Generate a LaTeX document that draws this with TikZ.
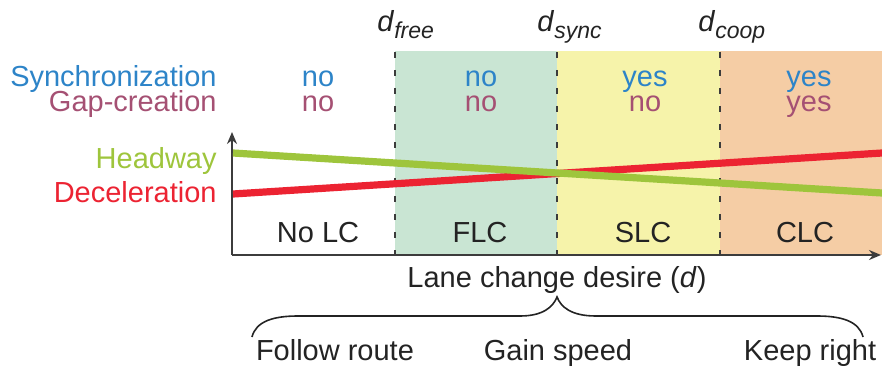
\documentclass[tikz,border=0pt]{standalone}
\usepackage{fontspec}
\setmainfont{Liberation Sans}
\usetikzlibrary{arrows.meta}

\definecolor{syncblue}{RGB}{45,132,200}
\definecolor{gapmauve}{RGB}{165,80,115}
\definecolor{headgreen}{RGB}{158,197,60}
\definecolor{decred}{RGB}{236,35,50}
\definecolor{flcfill}{RGB}{201,229,211}
\definecolor{slcfill}{RGB}{246,243,170}
\definecolor{clcfill}{RGB}{245,205,165}
\definecolor{axisgray}{RGB}{60,60,60}
\definecolor{textdark}{RGB}{35,35,35}

\begin{document}
\begin{tikzpicture}[x=0.5pt,y=-0.5pt,
  every node/.style={font=\fontsize{14.5}{17}\selectfont, inner sep=0pt, text=textdark},
  bound/.style={axisgray, line width=1pt, dash pattern=on 3pt off 6pt},
  axisline/.style={axisgray, line width=1pt, -{Stealth[length=6pt,width=5pt]}},
  trend/.style={line width=3.6pt},
  bracepath/.style={textdark, line width=0.8pt},
  synctxt/.style={text=syncblue},
  gaptxt/.style={text=gapmauve},
  thresh/.style={anchor=base west}
]
\useasboundingbox (0,0) rectangle (882,369);

% regime bands
\fill[flcfill] (395,51) rectangle (557,255);
\fill[slcfill] (557,51) rectangle (720,255);
\fill[clcfill] (720,51) rectangle (882,255);

% threshold markers
\coordinate (freeT) at (395,52);  \coordinate (freeB) at (395,255);
\coordinate (syncT) at (557,52);  \coordinate (syncB) at (557,255);
\coordinate (coopT) at (720,52);  \coordinate (coopB) at (720,255);
\draw[bound] (freeT) -- (freeB);
\draw[bound] (syncT) -- (syncB);
\draw[bound] (coopT) -- (coopB);

% threshold labels
\node[thresh] (dfree) at (377,32) {\textit{d}\raisebox{-3.5pt}{\fontsize{11.5}{13}\selectfont\textit{free}}};
\node[thresh] (dsync) at (537,32) {\textit{d}\raisebox{-3.5pt}{\fontsize{11.5}{13}\selectfont\textit{sync}}};
\node[thresh] (dcoop) at (698,32) {\textit{d}\raisebox{-3.5pt}{\fontsize{11.5}{13}\selectfont\textit{coop}}};

% row headings
\node[synctxt, anchor=base east] (sync) at (217,87) {Synchronization};
\node[gaptxt, anchor=base east] (gap) at (217,112) {Gap-creation};

% table entries
\node[synctxt, anchor=base] (s1) at (318,87) {no};
\node[synctxt, anchor=base] (s2) at (481,87) {no};
\node[synctxt, anchor=base] (s3) at (645,87) {yes};
\node[synctxt, anchor=base] (s4) at (809,87) {yes};
\node[gaptxt, anchor=base] (g1) at (318,112) {no};
\node[gaptxt, anchor=base] (g2) at (481,112) {no};
\node[gaptxt, anchor=base] (g3) at (645,112) {no};
\node[gaptxt, anchor=base] (g4) at (809,112) {yes};

% axes
\coordinate (origin) at (232,255);
\coordinate (ytop) at (232,132);
\coordinate (xend) at (881,255);
\draw[axisline] (origin) -- (ytop);
\draw[axisline] (origin) -- (xend);

% trend lines
\coordinate (decL) at (233,194);  \coordinate (decR) at (882,153);
\coordinate (headL) at (233,153); \coordinate (headR) at (882,193);
\draw[trend, decred] (decL) -- (decR);
\draw[trend, headgreen] (headL) -- (headR);

\node[anchor=base east, text=headgreen] (head) at (217,168) {Headway};
\node[anchor=base east, text=decred] (dec) at (217,202) {Deceleration};

% regime names
\node[anchor=base] (nolc) at (318,242) {No LC};
\node[anchor=base] (flc) at (480,242) {FLC};
\node[anchor=base] (slc) at (643,242) {SLC};
\node[anchor=base] (clc) at (805,242) {CLC};

% axis label
\node[anchor=base] (xlabel) at (557,287) {Lane change desire (\textit{d})};

% brace
\coordinate (braceL) at (252,337);
\coordinate (braceTip) at (557,297);
\coordinate (braceR) at (863,337);
\draw[bracepath] (braceL) .. controls (256,321) and (274,316) .. (298,316)
  -- (520,316) .. controls (543,316) and (553,307) .. (braceTip)
  .. controls (561,307) and (571,316) .. (596,316)
  -- (817,316) .. controls (841,316) and (859,321) .. (braceR);

% motivations
\node[anchor=base] (route) at (335,360) {Follow route};
\node[anchor=base] (speed) at (558,360) {Gain speed};
\node[anchor=base] (right) at (810,360) {Keep right};
\end{tikzpicture}
\end{document}
